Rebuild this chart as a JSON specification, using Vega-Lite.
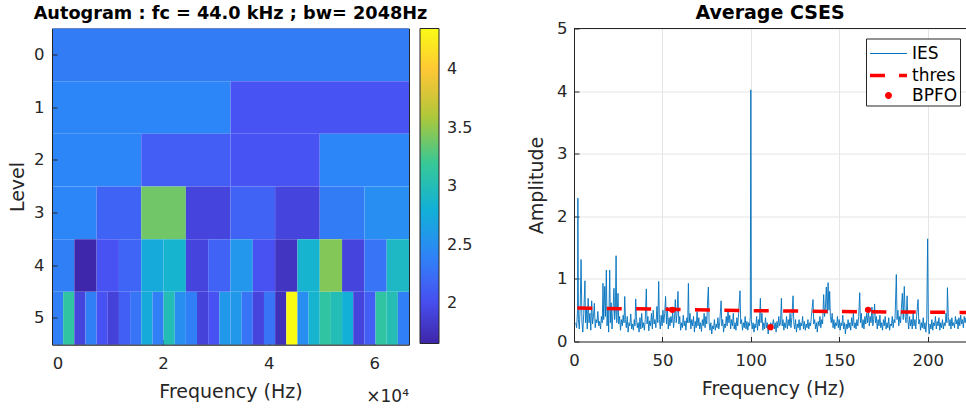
{
  "$schema": "https://vega.github.io/schema/vega-lite/v6.json",
  "padding": {"left": 8, "top": 3.5, "right": 0, "bottom": 0},
  "spacing": 53,
  "resolve": {
    "scale": {"color": "independent", "fill": "independent", "stroke": "independent", "shape": "independent", "strokeWidth": "independent"},
    "legend": {"color": "independent", "fill": "independent", "stroke": "independent", "shape": "independent", "strokeWidth": "independent"}
  },
  "hconcat": [
    {
      "width": 357,
      "height": 316,
      "title": {"text": "Autogram : fc = 44.0 kHz ; bw= 2048Hz", "frame": "group", "offset": 6, "fontSize": 17.7},
      "view": {"stroke": "#262626", "strokeWidth": 1},
      "layer": [
        {
          "data": {"values": [
            {"level": 0, "x0": -1057, "x1": 66593, "v": 2.35},
            {"level": 1, "x0": -1057, "x1": 32768, "v": 2.42},
            {"level": 1, "x0": 32768, "x1": 66593, "v": 2.05},
            {"level": 2, "x0": -1057, "x1": 15855.5, "v": 2.42},
            {"level": 2, "x0": 15855.5, "x1": 32768, "v": 2.13},
            {"level": 2, "x0": 32768, "x1": 49680.5, "v": 2.05},
            {"level": 2, "x0": 49680.5, "x1": 66593, "v": 2.42},
            {"level": 3, "x0": -1057, "x1": 7399.25, "v": 2.42},
            {"level": 3, "x0": 7399.25, "x1": 15855.5, "v": 2.17},
            {"level": 3, "x0": 15855.5, "x1": 24311.75, "v": 3.39},
            {"level": 3, "x0": 24311.75, "x1": 32768, "v": 1.92},
            {"level": 3, "x0": 32768, "x1": 41224.25, "v": 2.16},
            {"level": 3, "x0": 41224.25, "x1": 49680.5, "v": 1.92},
            {"level": 3, "x0": 49680.5, "x1": 58136.75, "v": 2.35},
            {"level": 3, "x0": 58136.75, "x1": 66593, "v": 2.49},
            {"level": 4, "x0": -1057, "x1": 3171.13, "v": 2.37},
            {"level": 4, "x0": 3171.13, "x1": 7399.25, "v": 1.67},
            {"level": 4, "x0": 7399.25, "x1": 11627.38, "v": 2.04},
            {"level": 4, "x0": 11627.38, "x1": 15855.5, "v": 2.18},
            {"level": 4, "x0": 15855.5, "x1": 20083.63, "v": 2.75},
            {"level": 4, "x0": 20083.63, "x1": 24311.75, "v": 2.86},
            {"level": 4, "x0": 24311.75, "x1": 28539.88, "v": 1.92},
            {"level": 4, "x0": 28539.88, "x1": 32768, "v": 2.16},
            {"level": 4, "x0": 32768, "x1": 36996.13, "v": 2.57},
            {"level": 4, "x0": 36996.13, "x1": 41224.25, "v": 2.03},
            {"level": 4, "x0": 41224.25, "x1": 45452.38, "v": 1.79},
            {"level": 4, "x0": 45452.38, "x1": 49680.5, "v": 2.86},
            {"level": 4, "x0": 49680.5, "x1": 53908.63, "v": 3.45},
            {"level": 4, "x0": 53908.63, "x1": 58136.75, "v": 1.92},
            {"level": 4, "x0": 58136.75, "x1": 62364.88, "v": 2.29},
            {"level": 4, "x0": 62364.88, "x1": 66593, "v": 2.93},
            {"level": 5, "x0": -1057, "x1": 1057.06, "v": 2.37},
            {"level": 5, "x0": 1057.06, "x1": 3171.13, "v": 3.13},
            {"level": 5, "x0": 3171.13, "x1": 5285.19, "v": 1.92},
            {"level": 5, "x0": 5285.19, "x1": 7399.25, "v": 2.37},
            {"level": 5, "x0": 7399.25, "x1": 9513.31, "v": 2.04},
            {"level": 5, "x0": 9513.31, "x1": 11627.38, "v": 1.9},
            {"level": 5, "x0": 11627.38, "x1": 13741.44, "v": 2.14},
            {"level": 5, "x0": 13741.44, "x1": 15855.5, "v": 2.29},
            {"level": 5, "x0": 15855.5, "x1": 17969.56, "v": 2.75},
            {"level": 5, "x0": 17969.56, "x1": 20083.63, "v": 2.37},
            {"level": 5, "x0": 20083.63, "x1": 22197.69, "v": 3.0},
            {"level": 5, "x0": 22197.69, "x1": 24311.75, "v": 2.5},
            {"level": 5, "x0": 24311.75, "x1": 26425.81, "v": 2.37},
            {"level": 5, "x0": 26425.81, "x1": 28539.88, "v": 1.9},
            {"level": 5, "x0": 28539.88, "x1": 30653.94, "v": 2.04},
            {"level": 5, "x0": 30653.94, "x1": 32768, "v": 2.58},
            {"level": 5, "x0": 32768, "x1": 34882.06, "v": 2.58},
            {"level": 5, "x0": 34882.06, "x1": 36996.13, "v": 2.29},
            {"level": 5, "x0": 36996.13, "x1": 39110.19, "v": 1.92},
            {"level": 5, "x0": 39110.19, "x1": 41224.25, "v": 2.29},
            {"level": 5, "x0": 41224.25, "x1": 43338.31, "v": 1.75},
            {"level": 5, "x0": 43338.31, "x1": 45452.38, "v": 4.35},
            {"level": 5, "x0": 45452.38, "x1": 47566.44, "v": 2.49},
            {"level": 5, "x0": 47566.44, "x1": 49680.5, "v": 2.86},
            {"level": 5, "x0": 49680.5, "x1": 51794.56, "v": 3.13},
            {"level": 5, "x0": 51794.56, "x1": 53908.63, "v": 3.0},
            {"level": 5, "x0": 53908.63, "x1": 56022.69, "v": 2.8},
            {"level": 5, "x0": 56022.69, "x1": 58136.75, "v": 1.92},
            {"level": 5, "x0": 58136.75, "x1": 60250.81, "v": 2.13},
            {"level": 5, "x0": 60250.81, "x1": 62364.88, "v": 3.13},
            {"level": 5, "x0": 62364.88, "x1": 64478.94, "v": 3.02},
            {"level": 5, "x0": 64478.94, "x1": 66593, "v": 2.37}
          ]},
          "mark": {"type": "rect"},
          "encoding": {
            "x": {"field": "x0", "type": "quantitative", "scale": {"domain": [-1057, 66593], "nice": false, "zero": false},
                  "axis": {"values": [0, 20000, 40000, 60000], "labelExpr": "datum.value / 10000", "title": "Frequency (Hz)", "grid": false, "labelPadding": 16, "titlePadding": 10, "labelFlush": false}},
            "x2": {"field": "x1"},
            "y": {"field": "level", "type": "ordinal", "scale": {"domain": [0, 1, 2, 3, 4, 5], "paddingInner": 0, "paddingOuter": 0},
                  "axis": {"title": "Level", "labelAngle": 0, "labelPadding": 13, "titlePadding": 6}},
            "color": {"field": "v", "type": "quantitative",
                      "scale": {"domain": [1.658, 2.043, 2.427, 2.812, 3.196, 3.581, 3.965, 4.35],
                                "range": ["#3E26A8", "#4852F4", "#2D87F7", "#11B1D6", "#37C897", "#ABC739", "#FEC338", "#F9FB15"], "interpolate": "rgb"},
                      "legend": {"title": null, "orient": "right", "offset": 11, "direction": "vertical", "gradientLength": 315, "gradientThickness": 19,
                                 "values": [2, 2.5, 3, 3.5, 4], "format": "~g", "labelFontSize": 16, "labelOffset": 8, "labelColor": "#262626",
                                 "gradientStrokeColor": "#262626", "gradientStrokeWidth": 1, "labelOverlap": false}}
          }
        },
        {
          "data": {"values": [{"t": "×10⁴", "level": 5}]},
          "mark": {"type": "text", "align": "right", "baseline": "alphabetic", "dy": 84, "fontSize": 17, "color": "#262626"},
          "encoding": {
            "x": {"datum": 66593},
            "y": {"field": "level", "type": "ordinal"},
            "text": {"field": "t"}
          }
        }
      ]
    },
    {
      "width": 392,
      "height": 313,
      "title": {"text": "Average CSES", "frame": "group", "offset": -2.5, "fontSize": 19},
      "view": {"stroke": null},
      "layer": [
        {
          "data": {"values": [
{"f":1.0,"a":0.30},{"f":1.5,"a":0.22},{"f":2.0,"a":0.50},{"f":2.2,"a":2.29},{"f":2.5,"a":0.35},{"f":3.0,"a":0.20},{"f":3.5,"a":0.55},{"f":4.0,"a":1.31},{"f":4.5,"a":0.30},{"f":5.0,"a":0.15},
{"f":5.5,"a":0.45},{"f":6.2,"a":0.97},{"f":6.5,"a":0.30},{"f":7.0,"a":0.55},{"f":7.5,"a":0.20},{"f":8.0,"a":0.69},{"f":8.5,"a":0.30},{"f":9.0,"a":0.45},{"f":9.5,"a":0.18},{"f":10.0,"a":0.65},
{"f":10.5,"a":0.28},{"f":11.0,"a":0.40},{"f":11.5,"a":0.61},{"f":12.0,"a":0.22},{"f":12.5,"a":0.35},{"f":13.0,"a":0.30},{"f":13.5,"a":0.48},{"f":14.0,"a":0.25},{"f":14.5,"a":0.32},{"f":15.0,"a":0.20},
{"f":15.5,"a":0.40},{"f":16.0,"a":0.30},{"f":16.4,"a":0.93},{"f":16.8,"a":0.35},{"f":17.4,"a":0.88},{"f":17.8,"a":0.40},{"f":18.3,"a":1.14},{"f":18.7,"a":0.25},{"f":19.2,"a":0.55},{"f":19.6,"a":0.15},
{"f":20.2,"a":1.14},{"f":20.6,"a":0.30},{"f":21.0,"a":0.62},{"f":21.5,"a":0.20},{"f":22.0,"a":0.45},{"f":22.6,"a":0.85},{"f":23.0,"a":0.35},{"f":23.4,"a":0.50},{"f":23.8,"a":1.37},{"f":24.2,"a":0.30},
{"f":24.9,"a":0.77},{"f":25.3,"a":0.28},{"f":25.8,"a":0.40},{"f":26.3,"a":0.18},{"f":26.8,"a":0.35},{"f":27.3,"a":0.25},{"f":27.8,"a":0.42},{"f":28.3,"a":0.30},{"f":28.7,"a":0.72},{"f":29.1,"a":0.35},
{"f":29.6,"a":0.22},{"f":30.1,"a":0.40},{"f":30.6,"a":0.15},{"f":31.1,"a":0.30},{"f":31.6,"a":0.25},{"f":32.1,"a":0.44},{"f":32.6,"a":0.20},{"f":33.1,"a":0.28},{"f":33.6,"a":0.18},{"f":34.1,"a":0.35},
{"f":34.5,"a":0.25},{"f":34.9,"a":0.68},{"f":35.3,"a":0.40},{"f":35.8,"a":0.22},{"f":36.3,"a":0.30},{"f":36.8,"a":0.15},{"f":37.3,"a":0.38},{"f":37.8,"a":0.20},{"f":38.3,"a":0.45},{"f":38.8,"a":0.22},
{"f":39.3,"a":0.30},{"f":39.8,"a":0.18},{"f":40.3,"a":0.35},{"f":40.9,"a":0.84},{"f":41.3,"a":0.28},{"f":41.8,"a":0.40},{"f":42.3,"a":0.17},{"f":42.8,"a":0.33},{"f":43.3,"a":0.25},{"f":43.8,"a":0.45},
{"f":44.3,"a":0.20},{"f":44.8,"a":0.50},{"f":45.3,"a":0.28},{"f":45.8,"a":0.35},{"f":46.3,"a":0.22},{"f":46.9,"a":0.56},{"f":47.4,"a":0.30},{"f":47.9,"a":0.96},{"f":48.3,"a":0.35},{"f":48.8,"a":0.20},
{"f":49.3,"a":0.42},{"f":49.8,"a":0.25},{"f":50.3,"a":0.50},{"f":50.8,"a":0.30},{"f":51.3,"a":0.45},{"f":51.8,"a":0.72},{"f":52.3,"a":0.28},{"f":52.8,"a":0.55},{"f":53.3,"a":0.20},{"f":53.8,"a":0.38},
{"f":54.3,"a":0.25},{"f":54.8,"a":0.40},{"f":55.3,"a":0.30},{"f":55.8,"a":0.48},{"f":56.3,"a":0.22},{"f":56.8,"a":0.35},{"f":57.3,"a":0.67},{"f":57.8,"a":0.30},{"f":58.3,"a":0.45},{"f":58.8,"a":0.80},
{"f":59.3,"a":0.28},{"f":59.8,"a":0.40},{"f":60.3,"a":0.18},{"f":60.8,"a":0.30},{"f":61.3,"a":0.22},{"f":61.8,"a":0.42},{"f":62.3,"a":0.25},{"f":62.8,"a":0.33},{"f":63.3,"a":0.18},{"f":63.8,"a":0.38},
{"f":64.3,"a":0.30},{"f":64.7,"a":0.93},{"f":65.1,"a":0.30},{"f":65.6,"a":0.45},{"f":66.1,"a":0.20},{"f":66.6,"a":0.35},{"f":67.1,"a":0.25},{"f":67.6,"a":0.40},{"f":68.1,"a":0.15},{"f":68.6,"a":0.32},
{"f":69.1,"a":0.22},{"f":69.6,"a":0.48},{"f":70.1,"a":0.25},{"f":70.6,"a":0.38},{"f":71.1,"a":0.20},{"f":71.6,"a":0.30},{"f":72.1,"a":0.16},{"f":72.6,"a":0.35},{"f":73.1,"a":0.25},{"f":73.6,"a":0.45},
{"f":74.1,"a":0.22},{"f":74.6,"a":0.40},{"f":75.1,"a":0.28},{"f":75.6,"a":0.68},{"f":76.0,"a":0.87},{"f":76.4,"a":0.30},{"f":76.9,"a":0.18},{"f":77.4,"a":0.30},{"f":77.9,"a":0.12},{"f":78.4,"a":0.25},
{"f":78.9,"a":0.20},{"f":79.4,"a":0.35},{"f":79.9,"a":0.18},{"f":80.4,"a":0.28},{"f":80.9,"a":0.22},{"f":81.4,"a":0.38},{"f":81.9,"a":0.20},{"f":82.4,"a":0.30},{"f":83.2,"a":0.65},{"f":83.6,"a":0.25},
{"f":84.1,"a":0.35},{"f":84.6,"a":0.15},{"f":85.1,"a":0.28},{"f":85.6,"a":0.22},{"f":86.1,"a":0.40},{"f":86.6,"a":0.25},{"f":87.1,"a":0.50},{"f":87.6,"a":0.30},{"f":88.1,"a":0.42},{"f":88.6,"a":0.20},
{"f":89.1,"a":0.35},{"f":89.6,"a":0.25},{"f":90.1,"a":0.45},{"f":90.6,"a":0.20},{"f":91.1,"a":0.30},{"f":91.6,"a":0.18},{"f":92.1,"a":0.38},{"f":92.6,"a":0.25},{"f":93.1,"a":0.45},{"f":93.9,"a":0.81},
{"f":94.3,"a":0.28},{"f":94.8,"a":0.35},{"f":95.3,"a":0.18},{"f":95.8,"a":0.30},{"f":96.3,"a":0.22},{"f":96.8,"a":0.40},{"f":97.3,"a":0.20},{"f":97.8,"a":0.32},{"f":98.3,"a":0.18},{"f":98.8,"a":0.30},
{"f":99.3,"a":0.25},{"f":99.7,"a":0.40},{"f":100.0,"a":4.02},{"f":100.3,"a":0.35},{"f":100.8,"a":0.20},{"f":101.3,"a":0.30},{"f":101.8,"a":0.15},{"f":102.3,"a":0.28},{"f":102.8,"a":0.22},{"f":103.3,"a":0.40},
{"f":103.8,"a":0.18},{"f":104.3,"a":0.35},{"f":104.8,"a":0.25},{"f":105.4,"a":0.69},{"f":105.8,"a":0.30},{"f":106.3,"a":0.45},{"f":106.8,"a":0.18},{"f":107.3,"a":0.30},{"f":107.8,"a":0.20},{"f":108.3,"a":0.38},
{"f":108.8,"a":0.22},{"f":109.3,"a":0.30},{"f":109.8,"a":0.12},{"f":110.3,"a":0.25},{"f":110.8,"a":0.20},{"f":111.3,"a":0.30},{"f":111.8,"a":0.18},{"f":112.3,"a":0.28},{"f":112.8,"a":0.35},{"f":113.3,"a":0.20},
{"f":113.8,"a":0.30},{"f":114.3,"a":0.15},{"f":114.8,"a":0.32},{"f":115.3,"a":0.22},{"f":115.8,"a":0.40},{"f":116.3,"a":0.25},{"f":116.8,"a":0.30},{"f":117.3,"a":0.69},{"f":117.7,"a":0.25},{"f":118.2,"a":0.35},
{"f":118.7,"a":0.18},{"f":119.2,"a":0.30},{"f":119.7,"a":0.22},{"f":120.2,"a":0.40},{"f":120.7,"a":0.20},{"f":121.2,"a":0.35},{"f":121.7,"a":0.25},{"f":122.2,"a":0.45},{"f":122.7,"a":0.22},{"f":123.2,"a":0.38},
{"f":123.9,"a":0.73},{"f":124.3,"a":0.30},{"f":124.8,"a":0.20},{"f":125.3,"a":0.35},{"f":125.8,"a":0.15},{"f":126.3,"a":0.28},{"f":126.8,"a":0.22},{"f":127.3,"a":0.35},{"f":127.8,"a":0.18},{"f":128.3,"a":0.30},
{"f":128.8,"a":0.25},{"f":129.3,"a":0.40},{"f":129.8,"a":0.20},{"f":130.3,"a":0.32},{"f":130.8,"a":0.18},{"f":131.3,"a":0.28},{"f":131.8,"a":0.22},{"f":132.3,"a":0.35},{"f":132.8,"a":0.20},{"f":133.3,"a":0.30},
{"f":133.8,"a":0.25},{"f":134.3,"a":0.42},{"f":135.2,"a":0.67},{"f":135.6,"a":0.28},{"f":136.1,"a":0.35},{"f":136.6,"a":0.20},{"f":137.1,"a":0.30},{"f":137.6,"a":0.15},{"f":138.1,"a":0.32},{"f":138.6,"a":0.25},
{"f":139.1,"a":0.40},{"f":139.6,"a":0.22},{"f":140.1,"a":0.35},{"f":140.6,"a":0.28},{"f":141.2,"a":0.75},{"f":141.7,"a":0.40},{"f":142.2,"a":0.55},{"f":142.7,"a":0.87},{"f":143.2,"a":0.45},{"f":143.7,"a":0.94},
{"f":144.2,"a":0.50},{"f":144.6,"a":0.80},{"f":145.0,"a":0.40},{"f":145.5,"a":0.30},{"f":146.0,"a":0.45},{"f":146.5,"a":0.22},{"f":147.0,"a":0.35},{"f":147.5,"a":0.20},{"f":148.0,"a":0.30},{"f":148.5,"a":0.25},
{"f":149.0,"a":0.40},{"f":149.5,"a":0.22},{"f":150.0,"a":0.35},{"f":150.5,"a":0.18},{"f":151.0,"a":0.30},{"f":151.5,"a":0.25},{"f":152.0,"a":0.42},{"f":152.5,"a":0.20},{"f":153.0,"a":0.30},{"f":153.5,"a":0.12},
{"f":154.0,"a":0.28},{"f":154.5,"a":0.20},{"f":155.0,"a":0.35},{"f":155.5,"a":0.22},{"f":156.0,"a":0.30},{"f":156.5,"a":0.18},{"f":157.0,"a":0.38},{"f":157.5,"a":0.25},{"f":158.0,"a":0.45},{"f":158.5,"a":0.22},
{"f":159.0,"a":0.30},{"f":159.5,"a":0.20},{"f":160.0,"a":0.35},{"f":160.5,"a":0.25},{"f":161.0,"a":0.40},{"f":161.6,"a":0.78},{"f":162.0,"a":0.30},{"f":162.5,"a":0.45},{"f":163.0,"a":0.22},{"f":163.5,"a":0.35},
{"f":164.0,"a":0.20},{"f":164.5,"a":0.40},{"f":165.0,"a":0.28},{"f":165.5,"a":0.45},{"f":166.0,"a":0.30},{"f":166.5,"a":0.50},{"f":167.0,"a":0.25},{"f":167.5,"a":0.40},{"f":168.0,"a":0.30},{"f":168.5,"a":0.55},
{"f":169.0,"a":0.25},{"f":169.5,"a":0.35},{"f":170.0,"a":0.60},{"f":170.5,"a":0.30},{"f":171.0,"a":0.40},{"f":171.5,"a":0.20},{"f":172.0,"a":0.35},{"f":172.5,"a":0.25},{"f":173.0,"a":0.42},{"f":173.5,"a":0.22},
{"f":174.0,"a":0.30},{"f":174.5,"a":0.18},{"f":175.0,"a":0.35},{"f":175.5,"a":0.25},{"f":176.0,"a":0.40},{"f":176.5,"a":0.20},{"f":177.0,"a":0.30},{"f":177.5,"a":0.22},{"f":178.0,"a":0.38},{"f":178.5,"a":0.18},
{"f":179.0,"a":0.28},{"f":179.5,"a":0.25},{"f":180.0,"a":0.40},{"f":180.5,"a":0.22},{"f":181.0,"a":0.35},{"f":181.5,"a":0.30},{"f":182.3,"a":1.07},{"f":182.7,"a":0.35},{"f":183.2,"a":0.50},{"f":183.7,"a":0.25},
{"f":184.2,"a":0.40},{"f":184.7,"a":0.30},{"f":185.2,"a":0.55},{"f":185.7,"a":0.77},{"f":186.2,"a":0.35},{"f":186.8,"a":0.88},{"f":187.3,"a":0.40},{"f":187.8,"a":0.30},{"f":188.4,"a":0.73},{"f":188.8,"a":0.35},
{"f":189.3,"a":0.20},{"f":189.8,"a":0.40},{"f":190.3,"a":0.25},{"f":190.8,"a":0.35},{"f":191.3,"a":0.20},{"f":191.8,"a":0.45},{"f":192.3,"a":0.25},{"f":192.8,"a":0.35},{"f":193.3,"a":0.20},{"f":193.8,"a":0.42},
{"f":194.6,"a":0.67},{"f":195.0,"a":0.28},{"f":195.5,"a":0.35},{"f":196.0,"a":0.18},{"f":196.5,"a":0.30},{"f":197.0,"a":0.22},{"f":197.5,"a":0.38},{"f":198.0,"a":0.20},{"f":198.5,"a":0.30},{"f":199.0,"a":0.15},
{"f":199.5,"a":0.35},{"f":200.0,"a":1.64},{"f":200.4,"a":0.30},{"f":200.9,"a":0.12},{"f":201.4,"a":0.28},{"f":201.9,"a":0.20},{"f":202.4,"a":0.35},{"f":202.9,"a":0.18},{"f":203.4,"a":0.30},{"f":203.9,"a":0.25},
{"f":204.4,"a":0.40},{"f":204.9,"a":0.20},{"f":205.4,"a":0.32},{"f":205.9,"a":0.25},{"f":206.4,"a":0.38},{"f":206.9,"a":0.18},{"f":207.4,"a":0.30},{"f":207.9,"a":0.22},{"f":208.4,"a":0.35},{"f":208.9,"a":0.20},
{"f":209.4,"a":0.30},{"f":209.9,"a":0.25},{"f":210.4,"a":0.45},{"f":210.9,"a":0.30},{"f":211.2,"a":0.86},{"f":211.7,"a":0.40},{"f":212.2,"a":0.25},{"f":212.7,"a":0.35},{"f":213.2,"a":0.20},{"f":213.7,"a":0.38},
{"f":214.2,"a":0.25},{"f":214.7,"a":0.30},{"f":215.2,"a":0.22},{"f":215.7,"a":0.40},{"f":216.2,"a":0.28},{"f":216.7,"a":0.35},{"f":217.2,"a":0.20},{"f":217.7,"a":0.38},{"f":218.2,"a":0.25},{"f":218.7,"a":0.42},
{"f":219.2,"a":0.28},{"f":219.7,"a":0.35},{"f":220.2,"a":0.22},{"f":220.7,"a":0.40},{"f":221.2,"a":0.30},{"f":221.7,"a":0.38},{"f":222.5,"a":0.30}
          ]},
          "mark": {"type": "line", "color": "#0072BD", "strokeWidth": 0.9, "clip": true},
          "encoding": {
            "x": {"field": "f", "type": "quantitative", "scale": {"domain": [0, 221.7], "nice": false, "zero": false},
                  "axis": {"values": [0, 50, 100, 150, 200], "title": "Frequency (Hz)", "titleX": 199, "grid": true, "labelPadding": 16, "titlePadding": 10, "labelFlush": false}},
            "y": {"field": "a", "type": "quantitative", "title": "Amplitude", "scale": {"domain": [0, 5], "nice": false},
                  "axis": {"values": [0, 1, 2, 3, 4, 5], "format": "d", "grid": true, "labelPadding": 12, "titlePadding": 10}}
          }
        },
        {
          "data": {"values": [{"f": 1.9, "a": 0.535}, {"f": 50, "a": 0.515}, {"f": 100, "a": 0.493}, {"f": 150, "a": 0.479}, {"f": 200, "a": 0.468}, {"f": 221.7, "a": 0.463}]},
          "mark": {"type": "line", "color": "#FF0000", "strokeWidth": 3.5, "strokeDash": [15, 14.4], "clip": true},
          "encoding": {
            "x": {"field": "f", "type": "quantitative", "scale": {"domain": [0, 221.7], "nice": false, "zero": false}},
            "y": {"field": "a", "type": "quantitative", "title": "Amplitude", "scale": {"domain": [0, 5], "nice": false}}
          }
        },
        {
          "data": {"values": [{"f": 55.6, "a": 0.506}, {"f": 111.1, "a": 0.229}, {"f": 166.3, "a": 0.506}]},
          "mark": {"type": "point", "filled": true, "color": "#FF0000", "size": 40, "opacity": 1, "clip": true},
          "encoding": {
            "x": {"field": "f", "type": "quantitative", "scale": {"domain": [0, 221.7], "nice": false, "zero": false}},
            "y": {"field": "a", "type": "quantitative", "title": "Amplitude", "scale": {"domain": [0, 5], "nice": false}}
          }
        },
        {
          "data": {"values": [{"edge": "top"}]},
          "mark": {"type": "rule", "color": "#262626", "strokeWidth": 1},
          "encoding": {
            "x": {"datum": 0},
            "x2": {"datum": 221.7},
            "y": {"datum": 5}
          }
        },
        {
          "data": {"values": [{"s": "IES"}, {"s": "thres"}, {"s": "BPFO"}]},
          "mark": {"type": "point", "filled": true, "opacity": 1, "clip": true},
          "encoding": {
            "x": {"datum": 400},
            "y": {"datum": 1},
            "fill": {"field": "s", "type": "nominal", "scale": {"domain": ["IES", "thres", "BPFO"], "range": ["#0072BD", "#FF0000", "#FF0000"]},
                     "legend": {"title": null, "orient": "none", "legendX": 292, "legendY": 10, "padding": 2, "rowPadding": 0,
                                "labelOffset": 16, "labelFontSize": 17, "labelColor": "#000000", "strokeColor": "#262626", "fillColor": "#ffffff",
                                "symbolSize": 576}},
            "stroke": {"field": "s", "type": "nominal", "scale": {"domain": ["IES", "thres", "BPFO"], "range": ["#0072BD", "#FF0000", "#FF0000"]}, "legend": {"title": null}},
            "shape": {"field": "s", "type": "nominal", "scale": {"domain": ["IES", "thres", "BPFO"],
                       "range": ["M-1,0H2.08", "M-1,0H0.25M1.42,0H2.08", "M0.25,0A0.29,0.29,0,1,1,0.83,0A0.29,0.29,0,1,1,0.25,0"]}, "legend": {"title": null}},
            "strokeWidth": {"field": "s", "type": "nominal", "scale": {"type": "ordinal", "domain": ["IES", "thres", "BPFO"], "range": [1.2, 3.5, 0]}, "legend": {"title": null}}
          }
        }
      ]
    }
  ],
  "config": {
    "font": "DejaVu Sans",
    "axis": {"labelFontSize": 16.5, "titleFontSize": 19, "titleFontWeight": "normal", "labelColor": "#262626", "titleColor": "#262626",
             "domainColor": "#262626", "tickColor": "#262626", "tickSize": -5, "gridColor": "#e5e5e5"},
    "title": {"fontWeight": "bold", "color": "#000000"}
  }
}
